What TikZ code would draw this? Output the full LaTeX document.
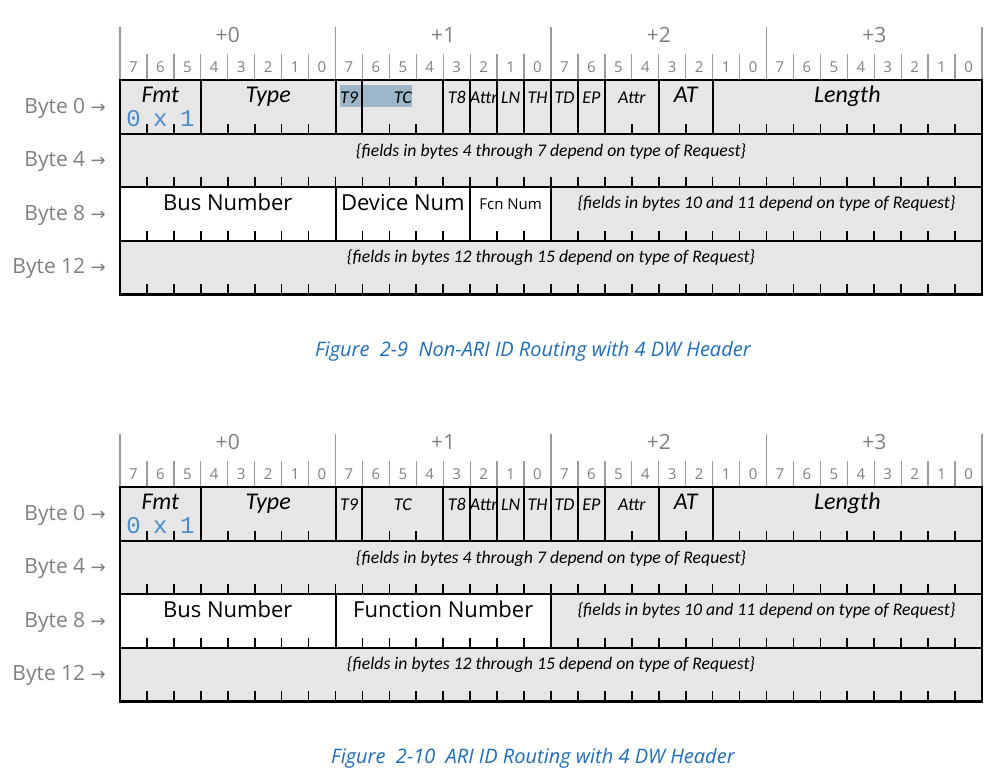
\documentclass[tikz,border=0pt]{standalone}
\usepackage{fontspec}
\setmainfont{Open Sans}
\newfontfamily\fieldfont{Carlito}
\newfontfamily\codefont{Liberation Mono}
\newfontfamily\arrowfont{DejaVu Sans}
\definecolor{cellgray}{HTML}{E6E6E6}
\definecolor{rulegray}{HTML}{9A9A9A}
\definecolor{labelgray}{HTML}{808080}
\definecolor{capblue}{HTML}{1F6DB5}
\definecolor{codeblue}{HTML}{4A8CCB}
\definecolor{selblue}{HTML}{9DB7CA}

\begin{document}
\begin{tikzpicture}[x=26.9375pt, y=-1pt,
    hdrline/.style={rulegray, line width=1.3pt},
    ticks/.style={line width=1.7pt},
    fieldsep/.style={line width=2pt},
    framebox/.style={line width=2.6pt},
    bytelabel/.style={anchor=base east, inner sep=0pt, text=labelgray, font=\fontsize{21}{24}\selectfont},
    bitnumber/.style={anchor=base, inner sep=0pt, text=labelgray, font=\fontsize{15}{18}\selectfont},
    offset/.style={anchor=base, inner sep=0pt, text=labelgray, font=\fontsize{21}{24}\selectfont},
    fieldbig/.style={anchor=base, inner sep=0pt, font=\fieldfont\itshape\fontsize{24}{28}\selectfont},
    fieldsmall/.style={anchor=base, inner sep=0pt, font=\fieldfont\itshape\fontsize{18}{20}\selectfont},
    fieldnote/.style={anchor=base, inner sep=0pt, font=\fieldfont\itshape\fontsize{17.7}{20}\selectfont},
    codetext/.style={anchor=base, inner sep=0pt, text=codeblue, font=\codefont\fontsize{24}{26}\selectfont},
    idname/.style={anchor=base, inner sep=0pt, font=\fontsize{22}{26}\selectfont},
    fcnname/.style={anchor=base, inner sep=0pt, font=\fontsize{15}{18}\selectfont},
    figcaption/.style={anchor=base, inner sep=0pt, text=capblue, font=\itshape\fontsize{20}{24}\selectfont}]
\useasboundingbox (-4.4548,0) rectangle (32.8167,769);
\foreach \dy/\fig/\capnum/\captext in {0/a/2-9/Non-ARI ID Routing with 4 DW Header,
                                      407/b/2-10/ARI ID Routing with 4 DW Header} {
  \begin{scope}[shift={(0,\dy)}]
% cell backgrounds
    \fill[cellgray] (0,80) rectangle (32,294.4);
    \fill[white] (0,187.2) rectangle (16,240.8);
    \ifnum\dy=0
      \fill[selblue] (8.167,85) rectangle (10.83,107.3);
    \fi
% bit ticks on each row
    \foreach \r in {133.6,187.2,240.8,294.4}
      \foreach \i in {1,...,31}
        \draw[ticks] (\i,\r) -- (\i,\r-10);
% row lines
    \draw[fieldsep] (0,133.6) -- (32,133.6);
    \draw[fieldsep] (0,187.2) -- (32,187.2);
    \draw[fieldsep] (0,240.8) -- (32,240.8);
% field borders
    \foreach \i in {3,8,9,12,13,14,15,16,17,18,20,22}
      \draw[fieldsep] (\i,80) -- (\i,133.6);
    \draw[fieldsep] (8,187.2) -- (8,240.8);
    \draw[fieldsep] (16,187.2) -- (16,240.8);
    \ifnum\dy=0
      \draw[fieldsep] (13,187.2) -- (13,240.8);
    \fi
    \draw[framebox] (0,80) rectangle (32,294.4);
% header
    \foreach \i in {1,...,31}
      \draw[hdrline] (\i,54) -- (\i,79);
    \foreach \k in {0,...,4}
      \draw[hdrline] (8*\k,27) -- (8*\k,79);
    \foreach \k in {0,...,3}
      \node[offset] (off\fig\k) at (8*\k+4,42.5) {+\k};
    \foreach \i in {0,...,31} {
      \pgfmathtruncatemacro\bitno{7-mod(\i,8)}
      \node[bitnumber] (bit\fig\i) at (\i+0.5,72) {\bitno};
    }
% byte labels
    \foreach \r/\n in {113/0,166.5/4,220/8,273.5/12}
      \node[bytelabel] (byte\fig\n) at (-0.52,\r) {Byte \n\ {\arrowfont\fontsize{18}{20}\selectfont →}};
% byte 0 fields
    \node[fieldbig] (fmt\fig) at (1.5,102.5) {Fmt};
    \node[codetext] (fmtzero\fig) at (0.5,126) {0};
    \node[codetext] (fmtx\fig) at (1.5,126) {x};
    \node[codetext] (fmtone\fig) at (2.5,126) {1};
    \node[fieldbig] (type\fig) at (5.5,102.5) {Type};
    \node[fieldsmall] (tnine\fig) at (8.5,103.5) {T9};
    \node[fieldsmall] (tc\fig) at (10.5,103.5) {TC};
    \node[fieldsmall] (teight\fig) at (12.5,103.5) {T8};
    \node[fieldsmall] (attrone\fig) at (13.5,103.5) {Attr};
    \node[fieldsmall] (ln\fig) at (14.5,103.5) {LN};
    \node[fieldsmall] (th\fig) at (15.5,103.5) {TH};
    \node[fieldsmall] (td\fig) at (16.5,103.5) {TD};
    \node[fieldsmall] (ep\fig) at (17.5,103.5) {EP};
    \node[fieldsmall] (attrtwo\fig) at (19,103.5) {Attr};
    \node[fieldbig] (at\fig) at (21,102.5) {AT};
    \node[fieldbig] (length\fig) at (27,102.5) {Length};
% bytes 4 to 15
    \node[fieldnote] (notefour\fig) at (16,156.5) {\{fields in bytes 4 through 7 depend on type of Request\}};
    \node[idname] (bus\fig) at (4,210.5) {Bus Number};
    \node[fieldnote] (noteten\fig) at (24,208) {\{fields in bytes 10 and 11 depend on type of Request\}};
    \node[fieldnote] (notetwelve\fig) at (16,262) {\{fields in bytes 12 through 15 depend on type of Request\}};
    \ifnum\dy=0
      \node[idname] (dev\fig) at (10.5,210.5) {Device Num};
      \node[fcnname] (fcn\fig) at (14.5,209.5) {Fcn Num};
    \else
      \node[idname] (func\fig) at (12,210.5) {Function Number};
    \fi
% caption
    \node[figcaption] (cap\fig) at (15.33,356) {Figure\ \ \capnum\ \ \captext};
  \end{scope}
}
\end{tikzpicture}
\end{document}
